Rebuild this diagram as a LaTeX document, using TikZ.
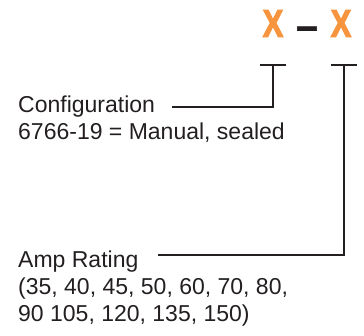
\documentclass[tikz,border=0pt]{standalone}
\usepackage{fontspec}
\setmainfont{Liberation Sans}
\newfontfamily\codefont[FakeStretch=0.8, FakeBold=2.5]{Liberation Sans Bold}
\newfontfamily\sepfont[FakeBold=1.5]{Liberation Sans Bold}
\usetikzlibrary{positioning}
\definecolor{codeorange}{RGB}{247, 148, 62}
\definecolor{inkcolor}{RGB}{35, 31, 32}
\tikzset{
  codechar/.style={
    inner sep=0pt, anchor=base, text=codeorange,
    font=\codefont\fontsize{39}{39}\selectfont
  },
  sepchar/.style={
    inner sep=0pt, anchor=base, text=inkcolor,
    font=\sepfont\fontsize{39}{39}\selectfont
  },
  label/.style={
    inner sep=0pt, anchor=base west, text=inkcolor,
    font=\fontsize{23}{27}\selectfont
  },
  lead/.style={line width=2.2pt, color=inkcolor}
}

\begin{document}
\begin{tikzpicture}[x=1pt, y=-1pt]

  \useasboundingbox (0,0) rectangle (364,336);

  % ── Part number ────────────────────────────────────────────────
  \node[codechar] (xa) at (273,37) {X};
  \node[sepchar]  (sep) at (307,39) {–};
  \node[codechar] (xb) at (341,37) {X};

  % ── Labels ─────────────────────────────────────────────────────
  \node[label] (cfg)     at (18,113) {Configuration};
  \node[label] (cfgdesc) at (18,140) {6766-19 = Manual, sealed};

  \node[label] (amp)      at (18,268) {Amp Rating};
  \node[label] (ampdesc)  at (18,295) {(35, 40, 45, 50, 60, 70, 80,};
  \node[label] (ampdesc2) at (18,322) {90 105, 120, 135, 150)};

  % ── Leader lines ───────────────────────────────────────────────
  \coordinate (ta) at ([yshift=-28pt]xa.base);
  \coordinate (tb) at ([xshift=3pt, yshift=-28pt]xb.base);
  \coordinate (cfgend) at ([xshift=17pt, yshift=6pt]cfg.base east);
  \coordinate (ampend) at ([xshift=19pt, yshift=13pt]amp.base east);

  \draw[lead] ([xshift=-13pt]ta) -- ([xshift=13pt]ta);
  \draw[lead] (ta) |- (cfgend);

  \draw[lead] ([xshift=-13pt]tb) -- ([xshift=13pt]tb);
  \draw[lead] (tb) |- (ampend);

\end{tikzpicture}
\end{document}
